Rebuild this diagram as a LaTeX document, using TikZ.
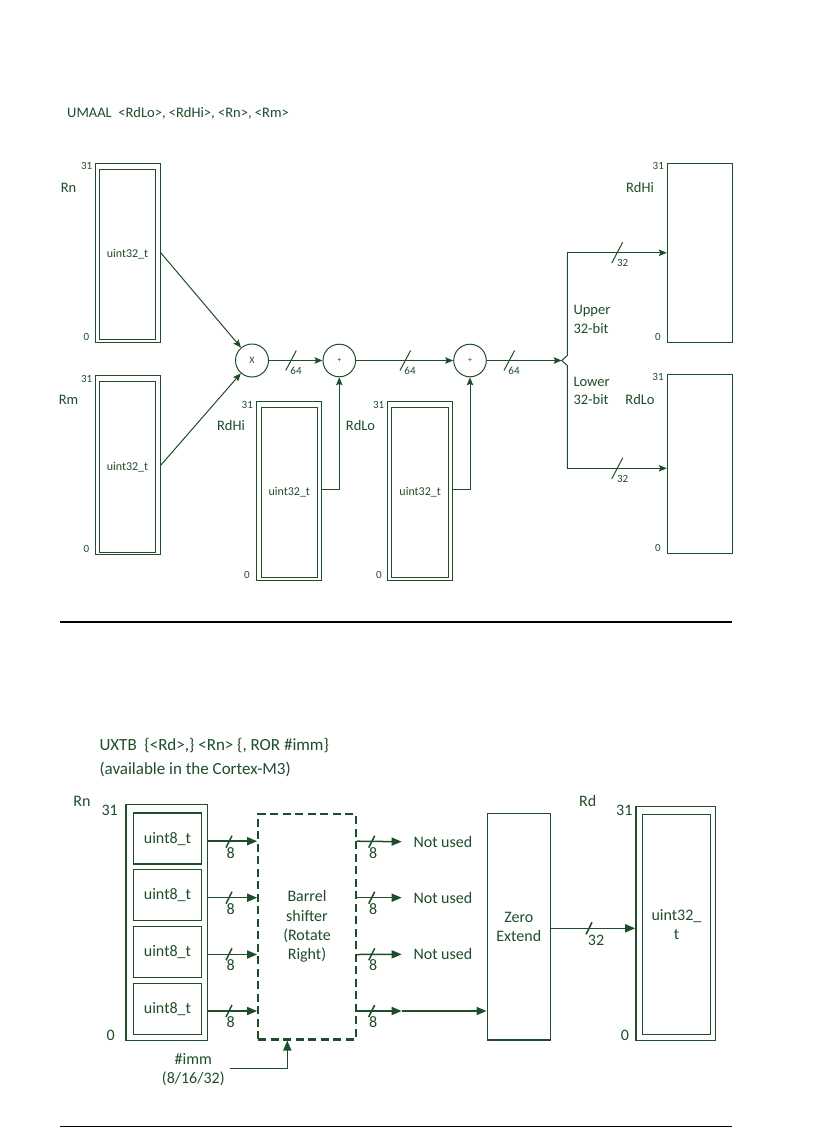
\documentclass[tikz,border=0pt]{standalone}
\usepackage{fontspec}
\setmainfont{Carlito}
\usetikzlibrary{arrows.meta}
\definecolor{dg}{HTML}{1E4D2B}
\begin{document}
\begin{tikzpicture}[x=1pt,y=-1pt,
  every node/.style={text=dg, inner sep=0pt},
  tl/.style={draw=dg, line width=1pt},
  tw/.style={draw=dg, line width=1pt, -{Stealth[length=8pt,width=6.5pt,inset=1.5pt]}},
  bl/.style={draw=dg, line width=1.5pt},
  bw/.style={draw=dg, line width=1.5pt, -{Triangle[length=10pt,width=8pt]}},
  fA/.style={font=\fontsize{14.5}{17}\selectfont},
  fB/.style={font=\fontsize{12}{14}\selectfont},
  fN/.style={font=\fontsize{11}{13}\selectfont},
  fC/.style={font=\fontsize{16}{19.3}\selectfont},
  fT/.style={font=\fontsize{17}{20}\selectfont},
  sepline/.style={draw=black},
]
\fill[white] (0,0) rectangle (834,1128);
\useasboundingbox (0,0) rectangle (834,1128);

% ---------------- TOP: UMAAL ----------------
\node[fA, anchor=west] (t1) at (67,113) {UMAAL\ \ <RdLo>, <RdHi>, <Rn>, <Rm>};

\node[tl, minimum width=65pt, minimum height=179pt] (rnO) at (127.8,252.8) {};
\node[tl, fB, minimum width=56.4pt, minimum height=170.4pt] (rnI) at (127.5,254.5) {uint32\_t};
\node[fA] (rnL) at (68.5,187.7) {Rn};
\node[fN] (rn31) at (86.7,165.7) {31};
\node[fN] (rn0) at (86.3,337) {0};

\node[tl, minimum width=65pt, minimum height=179pt] (rmO) at (127.8,465.2) {};
\node[tl, fB, minimum width=56.4pt, minimum height=170.4pt] (rmI) at (127.5,466.9) {uint32\_t};
\node[fA] (rmL) at (68.5,400) {Rm};
\node[fN] (rm31) at (86.7,379) {31};
\node[fN] (rm0) at (86.3,549) {0};

\node[tl, circle, minimum size=33pt, font=\fontsize{10}{12}\selectfont] (mul) at (252,360.5) {X};
\node[tl, circle, minimum size=32.6pt, font=\fontsize{8}{10}\selectfont] (add1) at (339.3,360.5) {+};
\node[tl, circle, minimum size=32.6pt, font=\fontsize{8}{10}\selectfont] (add2) at (470,360.5) {+};

\node[tl, minimum width=64.6pt, minimum height=178.6pt] (hiO) at (289,491) {};
\node[tl, fB, minimum width=56pt, minimum height=170pt] (hiI) at (289.3,492.3) {uint32\_t};
\node[fA] (hiL) at (231,426) {RdHi};
\node[fN] (hi31) at (247.3,405) {31};
\node[fN] (hi0) at (247,575) {0};

\node[tl, minimum width=65pt, minimum height=178.6pt] (loO) at (419.8,491) {};
\node[tl, fB, minimum width=57pt, minimum height=170pt] (loI) at (420.2,492.3) {uint32\_t};
\node[fA] (loL) at (360.5,426) {RdLo};
\node[fN] (lo31) at (378.7,405) {31};
\node[fN] (lo0) at (379,575) {0};

\node[tl, minimum width=65pt, minimum height=179pt] (hiR) at (699.8,252.8) {};
\node[fA] (hiRL) at (640,187.7) {RdHi};
\node[fN] (hiR31) at (658.3,166) {31};
\node[fN] (hiR0) at (658,337.3) {0};

\node[tl, minimum width=65pt, minimum height=179pt] (loR) at (699.8,463.8) {};
\node[fA] (loRL) at (640,400) {RdLo};
\node[fN] (loR31) at (658,377) {31};
\node[fN] (loR0) at (658,548) {0};

\node[fA, anchor=west] (upT1) at (573.3,311) {Upper};
\node[fA, anchor=west] (upT2) at (573.3,328.3) {32-bit};
\node[fA, anchor=west] (lwT1) at (573.3,382.3) {Lower};
\node[fA, anchor=west] (lwT2) at (573.3,400) {32-bit};

\draw[tw] (rnO.east) -- (mul);
\draw[tw] (rmO.east) -- (mul);
\draw[tw] (mul) -- (add1);
\draw[tw] (add1) -- (add2);
\coordinate (sp) at (561.7,360.5);
\draw[tw] (add2) -- (sp);
\draw[tw] ([yshift=2pt]hiO.east) -| (add1.south);
\draw[tw] ([yshift=2pt]loO.east) -| (add2.south);
\coordinate (up) at (567.3,252.8);
\coordinate (dn) at (567.3,468.3);
\draw[tl] (up) -- (567.3,355.5) -- (sp) -- (567.3,365.5) -- (dn);
\draw[tw] (up) -- (hiR.west);
\draw[tw] (dn) -- (dn -| loR.west);

% bus slashes (top)
\draw[tl] (285.7,370.5) -- (296.3,350.5);
\draw[tl] (400,370.5) -- (410.6,350.5);
\draw[tl] (504,370.5) -- (514.6,350.5);
\draw[tl] (611.7,263.2) -- (622.7,242.2);
\draw[tl] (611.7,478.9) -- (622.7,457.9);
\node[fN] (w1) at (296,371) {64};
\node[fN] (w2) at (410,371) {64};
\node[fN] (w3) at (514,371) {64};
\node[fN] (w4) at (622.7,263.3) {32};
\node[fN] (w5) at (622.7,479) {32};

\draw[sepline, line width=1.8pt] (60,622) -- (732,622);

% ---------------- BOTTOM: UXTB ----------------
\node[fT, anchor=west] (t2) at (99.3,745.7) {UXTB\ \ \{<Rd>,\} <Rn> \{, ROR \#imm\}};
\node[fT, anchor=west] (t3) at (99.3,769.3) {(available in the Cortex-M3)};

\node[fC] (rnbL) at (82,801) {Rn};
\node[fC] (rnb31) at (109.7,810.7) {31};
\node[fC] (rnb0) at (110.7,1035) {0};
\node[bl, minimum width=81.3pt, minimum height=236.4pt] (rnb) at (166.7,922.5) {};
\node[bl, fC, minimum width=68.4pt, minimum height=51pt] (b1) at (167.5,838.7) {uint8\_t};
\node[bl, fC, minimum width=68.4pt, minimum height=51pt] (b2) at (167.5,895.2) {uint8\_t};
\node[bl, fC, minimum width=68.4pt, minimum height=51pt] (b3) at (167.5,952) {uint8\_t};
\node[bl, fC, minimum width=68.4pt, minimum height=51pt] (b4) at (167.5,1008.8) {uint8\_t};

\node[draw=dg, line width=2.3pt, dash pattern=on 8pt off 4.5pt, fC, align=center,
      minimum width=97.4pt, minimum height=225.3pt] (bs) at (307,926.7)
      {Barrel\\shifter\\(Rotate\\Right)};

\node[bl, fC, align=center, minimum width=63pt, minimum height=226.7pt] (ze) at (518.8,926.7) {Zero\\Extend};

\node[bl, minimum width=79.7pt, minimum height=234pt] (rdO) at (675.8,923.7) {};
\node[bl, fC, align=center, minimum width=68.4pt, minimum height=220pt] (rdI) at (676.5,924.3) {uint32\_\\t};
\node[fC] (rdL) at (587.7,800.7) {Rd};
\node[fC] (rd31) at (624.3,810.7) {31};
\node[fC] (rd0) at (625,1035) {0};

\node[fC, anchor=west] (nu1) at (413.3,841.7) {Not used};
\node[fC, anchor=west] (nu2) at (413.3,897.7) {Not used};
\node[fC, anchor=west] (nu3) at (413.3,954.3) {Not used};

\coordinate (r1) at ([yshift=-2.5pt]b1.east);
\coordinate (r2) at ([yshift=-2.5pt]b2.east);
\coordinate (r3) at ([yshift=-2.5pt]b3.east);
\coordinate (r4) at ([yshift=-2.2pt]b4.east);
\draw[bw] (r1 -| rnb.east) -- (r1 -| bs.west);
\draw[bw] (r2 -| rnb.east) -- (r2 -| bs.west);
\draw[bw] (r3 -| rnb.east) -- (r3 -| bs.west);
\draw[bw] (r4 -| rnb.east) -- (r4 -| bs.west);
\draw[bw] (r1 -| bs.east) -- ([xshift=-11.6pt]nu1.west);
\draw[bw] (r2 -| bs.east) -- ([xshift=-11.6pt]nu2.west);
\draw[bw] (r3 -| bs.east) -- ([xshift=-11.6pt]nu3.west);
\coordinate (m4) at (401.7,1011);
\draw[bw] (r4 -| bs.east) -- (m4);
\draw[bw] (m4) -- (m4 -| ze.west);
\coordinate (zr) at ([yshift=-1.6pt]ze.east);
\draw[bw] (zr) -- (zr -| rdO.west);

\coordinate (im) at (230,1068.3);
\draw[bw] (im) -| ([xshift=-19.7pt]bs.south);
\node[fC] (imL1) at (193.3,1059) {\#imm};
\node[fC] (imL2) at (193.3,1078.3) {(8/16/32)};

% bus slashes (bottom)
\foreach \yy in {841.7,897.7,954.3,1011} {
  \draw[bl] (226,\yy+6) -- (232,\yy-6);
  \draw[bl] (368.7,\yy+6) -- (374.7,\yy-6);
}
\foreach \yy/\nm in {852.7/a,908.7/b,965.3/c,1022/d} {
  \node[fC] (i\nm) at (230.7,\yy) {8};
  \node[fC] (o\nm) at (373.3,\yy) {8};
}
\draw[bl] (586,934.3) -- (592,922.3);
\node[fC] (z32) at (596,940) {32};

\draw[sepline, line width=1pt] (60,1126.5) -- (732,1126.5);
\end{tikzpicture}
\end{document}
